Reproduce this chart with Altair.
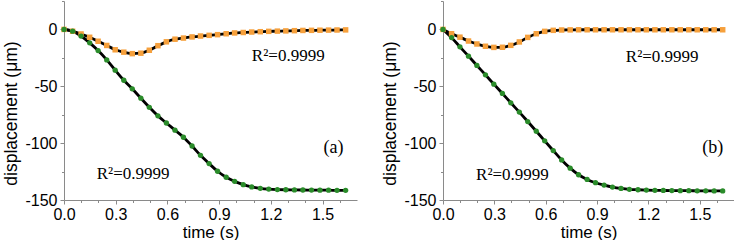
import altair as alt
import pandas as pd

# sampling times (s)
time_s = [0.000, 0.050, 0.099, 0.149, 0.198, 0.248, 0.297, 0.347, 0.396, 0.446,
          0.495, 0.545, 0.594, 0.644, 0.693, 0.743, 0.792, 0.842, 0.891, 0.941,
          0.990, 1.040, 1.089, 1.139, 1.188, 1.238, 1.287, 1.337, 1.386, 1.436,
          1.485, 1.535, 1.584, 1.634]

# panel (a)
a_orange = [0, -1.6, -4.0, -6.9, -10.4, -14.1, -17.9, -20.0, -21.3, -20.9,
            -18.3, -14.3, -10.9, -8.6, -7.6, -6.6, -5.8, -5.2, -4.6, -3.8,
            -3.1, -2.7, -2.3, -2.0, -1.7, -1.5, -1.3, -1.1, -0.9, -0.8,
            -0.7, -0.6, -0.5, -0.4]
a_green = [0, -1.5, -5.8, -11.8, -18.6, -26.8, -35.8, -44.7, -52.2, -60.5,
           -68.5, -76.0, -82.3, -88.6, -94.8, -102.5, -110.7, -118.0, -124.7, -130.0,
           -133.6, -136.5, -138.5, -139.7, -140.4, -140.8, -141.0, -141.1, -141.2, -141.3,
           -141.4, -141.4, -141.5, -141.5]

# panel (b)
b_orange = [0, -3.8, -6.8, -10.2, -12.8, -14.8, -15.8, -15.7, -14.0, -11.0,
            -7.0, -3.8, -1.7, -0.8, -0.5, -0.4, -0.3, -0.3, -0.3, -0.3,
            -0.3, -0.3, -0.3, -0.3, -0.3, -0.3, -0.3, -0.3, -0.3, -0.3,
            -0.3, -0.3, -0.3, -0.3]
b_green = [0, -7.2, -15.3, -23.5, -31.7, -39.9, -48.1, -56.3, -64.5, -72.7,
           -81.0, -89.5, -98.0, -106.5, -114.8, -122.0, -127.8, -131.9, -134.8, -136.9,
           -138.6, -139.8, -140.6, -141.0, -141.3, -141.5, -141.6, -141.7, -141.8, -141.8,
           -141.9, -141.9, -142.0, -142.0]

x_ticks = [0.0, 0.1, 0.2, 0.3, 0.4, 0.5, 0.6, 0.7, 0.8, 0.9, 1.0, 1.1, 1.2, 1.3, 1.4, 1.5, 1.6]
y_ticks = [-150, -125, -100, -75, -50, -25, 0, 25]

r2_text = "R\u00b2=0.9999"
ann_a = {"t": [1.09, 0.19, 1.564], "v": [-28, -131.6, -104], "label": [r2_text, r2_text, "(a)"],
         "align": ["left", "left", "center"]}
ann_b = {"t": [1.068, 0.193, 1.576], "v": [-29, -132.5, -104], "label": [r2_text, r2_text, "(b)"],
         "align": ["left", "left", "center"]}

ORANGE = "#F6A03C"
GREEN = "#2A8C2A"
GRAY = "#8a8a8a"
SANS = "Liberation Sans"
SERIF = "Liberation Serif"

X_MAJOR = "round(datum.value*10) % 3 == 0"
Y_MAJOR = "datum.value % 50 == 0"

x_axis = alt.Axis(
    values=x_ticks,
    labelExpr=f"{X_MAJOR} ? format(datum.value, '.1f') : ''",
    tickSize={"condition": {"test": X_MAJOR, "value": 4}, "value": 2.5},
    labelFontSize={"condition": {"test": X_MAJOR, "value": 16}, "value": 0},
    grid=False, domainColor=GRAY, tickColor=GRAY, labelColor="black",
    labelFont=SANS, labelPadding=2, labelFlush=False, labelOverlap=False,
    titleFont=SANS, titleFontSize=17, titleFontWeight="normal", titleColor="black", titlePadding=2,
)
y_axis = alt.Axis(
    values=y_ticks,
    labelExpr=f"{Y_MAJOR} ? '' + datum.value : ''",
    tickSize={"condition": {"test": Y_MAJOR, "value": 4}, "value": 2.5},
    labelFontSize={"condition": {"test": Y_MAJOR, "value": 16}, "value": 0},
    grid=False, domainColor=GRAY, tickColor=GRAY, labelColor="black",
    labelFont=SANS, labelPadding=3, labelOverlap=False,
    titleFont=SANS, titleFontSize=17.5, titleFontWeight="normal", titleColor="black", titlePadding=4,
    titleY=112,
)


def panel(orange, green, ann, w):
    n = len(time_s)
    df = pd.DataFrame({"t": time_s * 2, "v": orange + green,
                       "series": ["orange"] * n + ["green"] * n})
    x = alt.X("t:Q", scale=alt.Scale(domain=[0, 1.7], nice=False, zero=False), axis=x_axis, title="time (s)")
    y = alt.Y("v:Q", scale=alt.Scale(domain=[-150, 25], nice=False), axis=y_axis, title="displacement (\u03bcm)")
    lines = alt.Chart(df).mark_line(color="black", strokeWidth=2.8, interpolate="monotone").encode(
        x=x, y=y, detail="series:N")
    pts_o = alt.Chart(df).transform_filter("datum.series == 'orange'").mark_point(
        shape="square", filled=True, color=ORANGE, size=30, opacity=1).encode(x=x, y=y)
    pts_g = alt.Chart(df).transform_filter("datum.series == 'green'").mark_point(
        shape="circle", filled=True, color=GREEN, size=28, opacity=1).encode(x=x, y=y)
    adf = pd.DataFrame(ann)
    txt_l = alt.Chart(adf).transform_filter("datum.align == 'left'").mark_text(
        font=SERIF, fontSize=17, align="left", baseline="alphabetic", color="black").encode(
        x=x, y=y, text="label:N")
    txt_c = alt.Chart(adf).transform_filter("datum.align == 'center'").mark_text(
        font=SERIF, fontSize=18, align="center", baseline="middle", color="black").encode(
        x=x, y=y, text="label:N")
    return alt.layer(lines, pts_o, pts_g, txt_l, txt_c).properties(width=w, height=199)


left = panel(a_orange, a_green, ann_a, 293)
right = panel(b_orange, b_green, ann_b, 291)

chart = alt.hconcat(left, right, spacing=24).configure_view(stroke=None).properties(
    padding={"left": 2, "top": 0, "right": 0, "bottom": 0},
    background="white",
)

chart.save("out.html", embed_options={"renderer": "svg", "actions": False})
